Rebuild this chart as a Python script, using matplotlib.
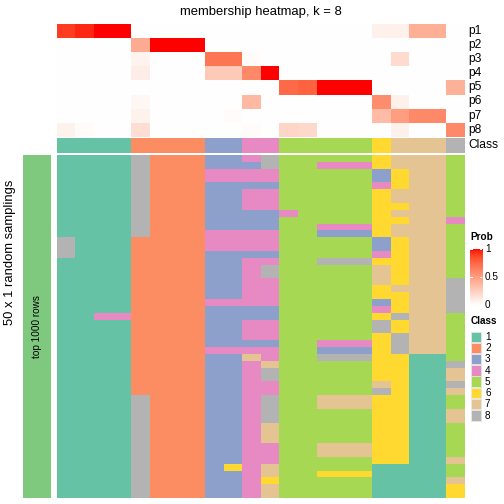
import numpy as np
import matplotlib
matplotlib.use("Agg")
import matplotlib.pyplot as plt
from matplotlib.colors import ListedColormap
from matplotlib.patches import Rectangle

plt.rcParams['font.family'] = ['Liberation Sans', 'DejaVu Sans']

# ---- data ----
title = "membership heatmap, k = 8"
prob_rows = ["p1", "p2", "p3", "p4", "p5", "p6", "p7", "p8"]

# membership probabilities, 22 samples (columns)
p1 = [0.90, 0.95, 1.0, 1.0, 0, 0, 0, 0, 0, 0, 0, 0, 0, 0, 0, 0, 0, 0.08, 0.08, 0.41, 0.41, 0]
p2 = [0, 0, 0, 0, 0.43, 1.0, 1.0, 1.0, 0, 0, 0, 0, 0, 0, 0, 0, 0, 0, 0, 0, 0, 0]
p3 = [0, 0, 0, 0, 0.06, 0, 0, 0, 0.69, 0.69, 0.02, 0, 0, 0, 0, 0, 0, 0, 0.19, 0, 0, 0]
p4 = [0, 0, 0, 0, 0.09, 0, 0, 0, 0.28, 0.28, 0.60, 1.0, 0, 0, 0, 0, 0, 0, 0, 0, 0, 0]
p5 = [0, 0, 0, 0, 0, 0, 0, 0, 0, 0, 0, 0, 0.74, 0.77, 1.0, 1.0, 1.0, 0, 0, 0, 0, 0.40]
p6 = [0, 0, 0, 0, 0.04, 0, 0, 0, 0, 0, 0.36, 0, 0, 0, 0, 0, 0, 0.58, 0.08, 0, 0, 0]
p7 = [0, 0, 0, 0, 0.07, 0, 0, 0, 0, 0.02, 0, 0, 0, 0, 0, 0, 0, 0.35, 0.50, 0.60, 0.60, 0]
p8 = [0.07, 0.02, 0, 0, 0.17, 0, 0, 0, 0, 0, 0.02, 0, 0.22, 0.20, 0, 0, 0, 0, 0.08, 0, 0, 0.60]

sample_class = [1, 1, 1, 1, 2, 2, 2, 2, 3, 3, 4, 4, 5, 5, 5, 5, 5, 6, 7, 7, 7, 8]

# class of each sample in each of the 50 random samplings
samplings = [
    [1, 1, 1, 1, 8, 2, 2, 2, 3, 3, 4, 8, 5, 5, 5, 5, 5, 6, 7, 7, 7, 5],
    [1, 1, 1, 1, 8, 2, 2, 2, 3, 3, 3, 8, 5, 5, 4, 4, 4, 6, 7, 7, 7, 5],
    [1, 1, 1, 1, 8, 2, 2, 2, 4, 4, 4, 4, 5, 5, 5, 5, 5, 3, 6, 7, 7, 5],
    [1, 1, 1, 1, 8, 2, 2, 2, 4, 4, 4, 4, 5, 5, 5, 5, 5, 3, 6, 7, 7, 5],
    [1, 1, 1, 1, 8, 2, 2, 2, 3, 3, 3, 3, 5, 5, 5, 5, 5, 4, 6, 7, 7, 5],
    [1, 1, 1, 1, 8, 2, 2, 2, 3, 3, 4, 4, 5, 5, 5, 5, 5, 6, 7, 7, 7, 5],
    [1, 1, 1, 1, 8, 2, 2, 2, 3, 3, 4, 4, 5, 5, 5, 5, 5, 6, 7, 7, 7, 5],
    [1, 1, 1, 1, 8, 2, 2, 2, 3, 3, 4, 4, 5, 5, 5, 5, 5, 6, 6, 7, 7, 5],
    [1, 1, 1, 1, 8, 2, 2, 2, 3, 3, 3, 3, 4, 5, 5, 5, 5, 6, 7, 7, 7, 5],
    [1, 1, 1, 1, 8, 2, 2, 2, 3, 3, 3, 3, 5, 5, 5, 5, 5, 6, 6, 7, 7, 4],
    [1, 1, 1, 1, 8, 2, 2, 2, 3, 3, 3, 3, 5, 5, 4, 4, 4, 6, 7, 7, 7, 5],
    [1, 1, 1, 1, 8, 2, 2, 2, 4, 4, 4, 4, 5, 5, 3, 3, 3, 6, 7, 7, 7, 5],
    [8, 1, 1, 1, 2, 2, 2, 2, 4, 4, 4, 4, 5, 5, 5, 5, 5, 3, 6, 7, 7, 5],
    [8, 1, 1, 1, 2, 2, 2, 2, 4, 4, 4, 4, 5, 5, 5, 5, 5, 3, 6, 7, 7, 5],
    [8, 1, 1, 1, 2, 2, 2, 2, 3, 3, 3, 3, 5, 5, 5, 5, 5, 4, 6, 7, 7, 5],
    [1, 1, 1, 1, 2, 2, 2, 2, 3, 3, 4, 4, 5, 5, 8, 8, 8, 6, 6, 7, 7, 5],
    [1, 1, 1, 1, 2, 2, 2, 2, 3, 3, 4, 8, 5, 5, 5, 5, 5, 7, 6, 7, 7, 5],
    [1, 1, 1, 1, 2, 2, 2, 2, 3, 3, 4, 8, 5, 5, 5, 5, 5, 7, 6, 7, 7, 5],
    [1, 1, 1, 1, 2, 2, 2, 2, 3, 3, 4, 4, 5, 5, 5, 5, 5, 7, 6, 7, 7, 8],
    [1, 1, 1, 1, 2, 2, 2, 2, 3, 3, 4, 4, 5, 5, 5, 5, 5, 6, 7, 7, 7, 8],
    [1, 1, 1, 1, 2, 2, 2, 2, 3, 3, 4, 4, 5, 5, 5, 5, 5, 6, 6, 7, 7, 8],
    [1, 1, 1, 1, 2, 2, 2, 2, 4, 4, 4, 4, 5, 5, 5, 5, 5, 3, 6, 7, 7, 8],
    [1, 1, 1, 1, 2, 2, 2, 2, 3, 3, 3, 3, 5, 5, 5, 5, 5, 4, 6, 7, 7, 8],
    [1, 1, 4, 4, 2, 2, 2, 2, 3, 3, 3, 3, 5, 5, 5, 5, 5, 6, 8, 7, 7, 5],
    [1, 1, 1, 1, 2, 2, 2, 2, 3, 3, 4, 4, 5, 5, 5, 5, 5, 8, 6, 7, 7, 5],
    [1, 1, 1, 1, 2, 2, 2, 2, 3, 3, 4, 4, 5, 5, 5, 5, 5, 8, 6, 7, 7, 5],
    [1, 1, 1, 1, 2, 2, 2, 2, 3, 3, 4, 4, 5, 5, 5, 5, 5, 6, 8, 7, 7, 5],
    [1, 1, 1, 1, 2, 2, 2, 2, 3, 3, 3, 3, 5, 5, 4, 4, 4, 6, 8, 7, 7, 5],
    [1, 1, 1, 1, 2, 2, 2, 2, 4, 4, 4, 4, 5, 5, 3, 3, 3, 6, 8, 7, 7, 5],
    [1, 1, 1, 1, 2, 2, 2, 2, 3, 3, 7, 4, 5, 5, 8, 8, 8, 6, 6, 1, 1, 5],
    [1, 1, 1, 1, 2, 2, 2, 2, 3, 3, 4, 7, 5, 5, 5, 5, 5, 6, 6, 1, 1, 8],
    [1, 1, 1, 1, 2, 2, 2, 2, 3, 3, 4, 8, 5, 5, 5, 5, 5, 6, 6, 1, 1, 7],
    [1, 1, 1, 1, 2, 2, 2, 2, 3, 3, 4, 8, 5, 5, 5, 5, 5, 6, 6, 1, 1, 7],
    [1, 1, 1, 1, 2, 2, 2, 2, 3, 3, 4, 4, 5, 5, 5, 5, 5, 7, 6, 1, 1, 8],
    [1, 1, 1, 1, 2, 2, 2, 2, 3, 3, 4, 4, 5, 5, 5, 5, 5, 8, 6, 1, 1, 7],
    [1, 1, 1, 1, 8, 2, 2, 2, 3, 3, 4, 8, 5, 5, 7, 7, 7, 6, 6, 1, 1, 5],
    [1, 1, 1, 1, 8, 2, 2, 2, 3, 3, 4, 8, 5, 5, 7, 7, 7, 6, 6, 1, 1, 5],
    [1, 1, 1, 1, 8, 2, 2, 2, 3, 3, 4, 8, 5, 5, 5, 5, 5, 6, 6, 1, 1, 7],
    [1, 1, 1, 1, 8, 2, 2, 2, 3, 3, 4, 8, 5, 5, 5, 5, 5, 6, 6, 1, 1, 7],
    [1, 1, 1, 1, 8, 2, 2, 2, 3, 3, 4, 7, 5, 5, 5, 5, 5, 6, 6, 1, 1, 5],
    [1, 1, 1, 1, 8, 2, 2, 2, 3, 3, 4, 7, 5, 5, 5, 5, 5, 6, 6, 1, 1, 5],
    [1, 1, 1, 1, 8, 2, 2, 2, 3, 3, 4, 7, 5, 5, 5, 5, 5, 6, 6, 1, 1, 5],
    [1, 1, 1, 1, 8, 2, 2, 2, 3, 3, 4, 4, 5, 5, 7, 7, 7, 6, 6, 1, 1, 5],
    [1, 1, 1, 1, 8, 2, 2, 2, 3, 3, 4, 4, 5, 5, 7, 7, 7, 6, 6, 1, 1, 5],
    [1, 1, 1, 1, 8, 2, 2, 2, 3, 3, 4, 4, 5, 5, 5, 5, 5, 6, 6, 1, 1, 7],
    [1, 1, 1, 1, 8, 2, 2, 2, 3, 6, 4, 7, 5, 5, 5, 5, 5, 1, 1, 1, 1, 5],
    [1, 1, 1, 1, 8, 2, 2, 2, 3, 3, 4, 7, 5, 5, 6, 6, 6, 1, 1, 1, 1, 5],
    [1, 1, 1, 1, 8, 2, 2, 2, 3, 3, 4, 6, 5, 5, 5, 5, 5, 1, 1, 1, 1, 7],
    [1, 1, 1, 1, 8, 2, 2, 2, 3, 3, 4, 7, 5, 5, 5, 5, 5, 1, 1, 1, 1, 6],
    [1, 1, 1, 1, 8, 2, 2, 2, 3, 3, 4, 7, 5, 5, 5, 5, 5, 1, 1, 1, 1, 6],
]

class_labels = ["1", "2", "3", "4", "5", "6", "7", "8"]
class_colors = ["#66C2A5", "#FC8D62", "#8DA0CB", "#E78AC3",
                "#A6D854", "#FFD92F", "#E5C494", "#B3B3B3"]
prob_ticks = [0, 0.5, 1]


def srgb_to_lab(rgb):
    c = np.asarray(rgb, dtype=float)
    lin = np.where(c <= 0.04045, c / 12.92, ((c + 0.055) / 1.055) ** 2.4)
    m = np.array([[0.4124, 0.3576, 0.1805],
                  [0.2126, 0.7152, 0.0722],
                  [0.0193, 0.1192, 0.9505]])
    xyz = m @ lin / np.array([0.95047, 1.0, 1.08883])
    f = np.where(xyz > 0.008856, np.cbrt(xyz), 7.787 * xyz + 16 / 116)
    return np.array([116 * f[1] - 16, 500 * (f[0] - f[1]), 200 * (f[1] - f[2])])


def lab_to_srgb(lab):
    L, a, b = lab
    fy = (L + 16) / 116
    f = np.array([fy + a / 500, fy, fy - b / 200])
    xyz = np.where(f ** 3 > 0.008856, f ** 3, (f - 16 / 116) / 7.787)
    xyz = xyz * np.array([0.95047, 1.0, 1.08883])
    m = np.array([[3.2406, -1.5372, -0.4986],
                  [-0.9689, 1.8758, 0.0415],
                  [0.0557, -0.2040, 1.0570]])
    lin = np.clip(m @ xyz, 0, 1)
    c = np.where(lin <= 0.0031308, 12.92 * lin, 1.055 * lin ** (1 / 2.4) - 0.055)
    return np.clip(c, 0, 1)


def white_red_cmap(n=256):
    """white -> red ramp interpolated in LAB space"""
    lab0 = srgb_to_lab([1, 1, 1])
    lab1 = srgb_to_lab([1, 0, 0])
    cols = [lab_to_srgb(lab0 + (lab1 - lab0) * t) for t in np.linspace(0, 1, n)]
    return ListedColormap(cols)


W = H = 504
fig = plt.figure(figsize=(7, 7), dpi=72)


def px_axes(x0, y0, x1, y1):
    ax = fig.add_axes([x0 / W, 1 - y1 / H, (x1 - x0) / W, (y1 - y0) / H])
    ax.set_axis_off()
    return ax


prob_cmap = white_red_cmap()
class_cmap = ListedColormap(class_colors)
prob = np.array([p1, p2, p3, p4, p5, p6, p7, p8])
n_cols = prob.shape[1]

left, right = 57.3, 465

# top: membership probabilities
ax_prob = px_axes(left, 24, right, 136.7)
ax_prob.imshow(prob, cmap=prob_cmap, vmin=0, vmax=1, aspect='auto', interpolation='nearest')

# class annotation
ax_cls = px_axes(left, 137.7, right, 152.7)
ax_cls.imshow(np.array([sample_class]), cmap=class_cmap, vmin=0.5, vmax=8.5,
              aspect='auto', interpolation='nearest')

# bottom: random samplings
ax_samp = px_axes(left, 155, right, 498)
ax_samp.imshow(np.array(samplings), cmap=class_cmap, vmin=0.5, vmax=8.5,
               aspect='auto', interpolation='nearest')

# left green bar
ax_bar = px_axes(23, 155, 51, 498)
ax_bar.add_patch(Rectangle((0, 0), 1, 1, color="#7FC97F"))
ax_bar.set_xlim(0, 1)
ax_bar.set_ylim(0, 1)
ax_bar.text(0.5, 0.5, "top 1000 rows", rotation=90, ha='center', va='center', fontsize=10)

# overlay for texts and legends, in pixel coordinates
ov = fig.add_axes([0, 0, 1, 1])
ov.set_xlim(0, W)
ov.set_ylim(H, 0)
ov.set_axis_off()
ov.patch.set_visible(False)

ov.text(261, 14.5, title, ha='center', va='baseline', fontsize=13)
ov.text(10, 252, "50 x 1 random samplings", rotation=90, ha='center', va='center', fontsize=13)

row_h = (136.7 - 24) / len(prob_rows)
for i, name in enumerate(prob_rows):
    ov.text(468.5, 24 + row_h * (i + 0.5), name, ha='left', va='center', fontsize=12)
ov.text(468.5, 145.2, "Class", ha='left', va='center', fontsize=12)

# probability legend
ov.text(470.5, 239.5, "Prob", ha='left', va='baseline', fontsize=10, fontweight='bold')
ax_cb = px_axes(470, 246, 482.3, 305)
grad = np.linspace(0, 1, 256).reshape(-1, 1)
ax_cb.imshow(grad, cmap=prob_cmap, vmin=0, vmax=1, aspect='auto', origin='lower',
             extent=[0, 1, 0, 1])
ax_cb.set_xlim(0, 1)
ax_cb.set_ylim(0, 1.054)
for t in prob_ticks:
    ax_cb.plot([0, 0.2], [t, t], color='white', lw=1)
    ax_cb.plot([0.8, 1], [t, t], color='white', lw=1)
for t in prob_ticks:
    ov.text(485, 305 - 56 * t, f"{t:g}", ha='left', va='center', fontsize=10)

# class legend
ov.text(470.5, 324.5, "Class", ha='left', va='baseline', fontsize=10, fontweight='bold')
for i, (lab, col) in enumerate(zip(class_labels, class_colors)):
    y0 = 331.5 + 11.24 * i
    ov.add_patch(Rectangle((470.5, y0), 10.5, 10.5, facecolor=col, edgecolor='#E6E6E6', lw=0.8))
    ov.text(485, y0 + 5.5, lab, ha='left', va='center', fontsize=10)

fig.savefig("out.png", dpi=72)
